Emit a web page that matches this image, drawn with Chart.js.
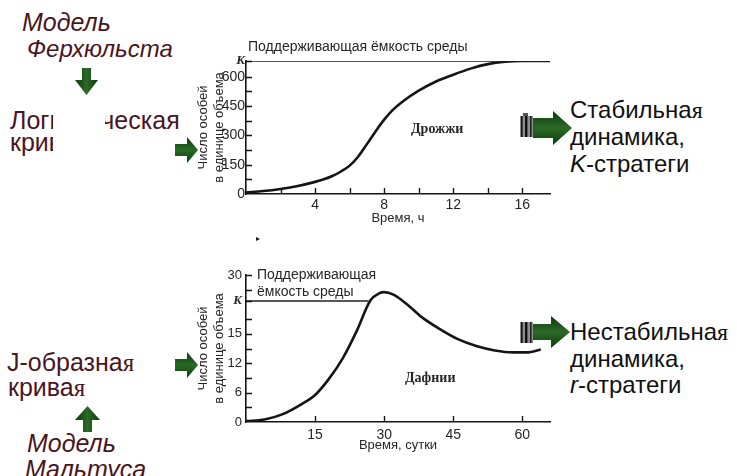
<!DOCTYPE html>
<html lang="ru">
<head>
<meta charset="utf-8">
<script src="https://cdn.jsdelivr.net/npm/chart.js@4.4.1/dist/chart.umd.min.js"></script>
<style>
  html, body { margin: 0; padding: 0; background: #fff; }
  #slide { position: relative; width: 737px; height: 476px; overflow: hidden; background: #fff;
           font-family: 'Liberation Sans', Arial, sans-serif; }
  #slide canvas { position: absolute; }
  #yeast { left: 180px; top: 30px; }
  #daphnia { left: 180px; top: 258px; }
  .t { position: absolute; white-space: nowrap; font-size: 24px; line-height: 24px; color: #111; }
  .red { color: #4a1522; font-size: 25px; }
  .it { font-style: italic; }
  .serif { font-family: 'Liberation Serif', serif; }
  .mask { position: absolute; background: #fff; }
  svg.arrows { position: absolute; left: 0; top: 0; }
</style>
</head>
<body>
<div id="slide">
  <canvas id="yeast" width="380" height="215"></canvas>
  <canvas id="daphnia" width="380" height="205"></canvas>

  <div class="t red it" style="left:22px; top:10px;">Модель</div>
  <div class="t red it" style="left:27px; top:37px; font-size:24px;">Ферхюльста</div>
  <div class="t red" style="left:10px; top:108px;">Логистическая</div>
  <div class="t red" style="left:10px; top:130px;">кривая</div>
  <div class="mask" style="left:53px; top:98px; width:52px; height:64px;"></div>

  <div class="t red" style="left:7px; top:350px;">J-образна<span class="serif">я</span></div>
  <div class="t red" style="left:8px; top:375px;">крива<span class="serif">я</span></div>
  <div class="t red it" style="left:27px; top:431px;">Модель</div>
  <div class="t red it" style="left:25px; top:457px;">Мальтуса</div>

  <div class="t" style="left:570px; top:98px;">Стабильна<span class="serif">я</span></div>
  <div class="t" style="left:570px; top:125px;">динамика,</div>
  <div class="t" style="left:570px; top:152px;"><i>K</i>-стратеги</div>

  <div class="t" style="left:570px; top:320px;">Нестабильна<span class="serif">я</span></div>
  <div class="t" style="left:570px; top:347px;">динамика,</div>
  <div class="t" style="left:570px; top:373px;"><i>r</i>-стратеги</div>

  <div class="t" style="left:256px; top:235px; font-size:8px; line-height:8px;">▸</div>

  <svg class="arrows" width="737" height="476">
    <defs>
      <linearGradient id="gv" x1="0" y1="0" x2="1" y2="0">
        <stop offset="0" stop-color="#0b3b0c"/>
        <stop offset="0.5" stop-color="#2c6a27"/>
        <stop offset="1" stop-color="#0b3b0c"/>
      </linearGradient>
      <linearGradient id="gh" x1="0" y1="0" x2="0" y2="1">
        <stop offset="0" stop-color="#0b3b0c"/>
        <stop offset="0.5" stop-color="#2c6a27"/>
        <stop offset="1" stop-color="#0b3b0c"/>
      </linearGradient>
    </defs>
    <!-- down / up -->
    <polygon fill="url(#gv)" points="82,68 91,68 91,80 98,80 86.5,95 75,80 82,80"/>
    <polygon fill="url(#gv)" points="83,432 92,432 92,420 100,420 87.5,406 75,420 83,420"/>
    <!-- small arrows pointing at the charts -->
    <polygon fill="url(#gh)" points="175,144 187,144 187,137 198,150 187,163 187,156 175,156"/>
    <polygon fill="url(#gh)" points="175,359 187,359 187,352 198,365 187,378 187,371 175,371"/>
    <!-- striped arrows on the right -->
    <g>
      <rect x="520" y="116" width="13" height="21" fill="#8d8d8d"/>
      <rect x="521" y="116" width="1.6" height="21" fill="#111"/>
      <rect x="525" y="116" width="2.4" height="21" fill="#111"/>
      <rect x="530" y="116" width="1.6" height="21" fill="#222"/>
      <rect x="523" y="113" width="5" height="3" fill="#555"/>
      <polygon fill="url(#gh)" points="533,118 553,118 553,111 572,128 553,145 553,138 533,138"/>
    </g>
    <g>
      <rect x="520" y="322" width="13" height="21" fill="#8d8d8d"/>
      <rect x="521" y="322" width="1.6" height="21" fill="#111"/>
      <rect x="525" y="322" width="2.4" height="21" fill="#111"/>
      <rect x="530" y="322" width="1.6" height="21" fill="#222"/>
      <polygon fill="url(#gh)" points="533,324 551,324 551,316 570,332 551,348 551,340 533,340"/>
    </g>
  </svg>
</div>

<script>
// Дрожжи: логистический рост, время в часах
const yeastHours   = [0, 1, 2, 3, 4, 4.5, 5, 5.5, 6, 6.5, 7, 7.5, 8, 8.5, 9, 10, 11, 12, 13, 14, 15, 16, 17, 17.6];
const yeastDensity = [8, 15, 26, 41, 62, 75, 92, 115, 145, 192, 255, 320, 380, 430, 468, 528, 575, 610, 641, 664, 676, 680, 680, 680];
const yeastK = 680;
const yeastXTicks  = [0, 2, 4, 6, 8, 10, 12, 14, 16];
const yeastXLabels = ['', '', '4', '', '8', '', '12', '', '16'];
const yeastYTicks  = [0, 75, 150, 225, 300, 375, 450, 525, 600, yeastK];
const yeastYLabels = ['0', '', '150', '', '300', '', '450', '', '600', 'K'];

// Дафнии: рост с перескоком через K, время в сутках
const daphniaDays    = [0, 4, 8, 12, 15, 18, 21, 24, 27, 29, 30, 32, 35, 38, 42, 46, 50, 54, 58, 61, 64];
const daphniaDensity = [0.2, 0.5, 1.6, 3.6, 5.5, 8.8, 13, 18.5, 24.8, 26.3, 26.5, 26, 24, 21.5, 19, 16.9, 15.5, 14.6, 14.2, 14.2, 14.8];
const daphniaK = 24.7;
const daphniaKEnd = 26.6;
const daphniaXTicks  = [15, 30, 45, 60];
const daphniaXLabels = ['15', '30', '45', '60'];
const daphniaYTicks  = [0, 3, 6, 9, 12, 15, 18, 21, daphniaK, 27, 30];
const daphniaYLabels = ['0', '', '6', '', '12', '', '15', '', 'K', '', '30'];

const INK = '#151515';
const TEXT = '#262626';
Chart.defaults.font.family = "'Liberation Sans', Arial, sans-serif";

// short tick marks drawn inside the plot area
const inwardTicks = {
    id: 'inwardTicks',
    afterDraw(chart) {
        const { ctx, chartArea: a, scales: { x, y } } = chart;
        const len = 6;
        ctx.save();
        ctx.strokeStyle = INK;
        ctx.lineWidth = 1.4;
        ctx.beginPath();
        x.ticks.forEach(t => {
            if (t.value <= x.min) return;
            const p = Math.round(x.getPixelForValue(t.value)) + 0.5;
            ctx.moveTo(p, a.bottom);
            ctx.lineTo(p, a.bottom - len);
        });
        y.ticks.forEach(t => {
            if (t.value <= y.min) return;
            const p = Math.round(y.getPixelForValue(t.value)) + 0.5;
            ctx.moveTo(a.left, p);
            ctx.lineTo(a.left + len, p);
        });
        ctx.stroke();
        ctx.restore();
    }
};

// free text inside the chart; data:true places it in axis units,
// otherwise it is offset from the chart area's top-left corner
const notes = {
    id: 'notes',
    afterDatasetsDraw(chart, args, opts) {
        const { ctx, chartArea: a, scales: { x, y } } = chart;
        ctx.save();
        ctx.textBaseline = 'middle';
        (opts.items || []).forEach(n => {
            ctx.font = n.font;
            ctx.fillStyle = TEXT;
            ctx.textAlign = n.align || 'left';
            const px = n.data ? x.getPixelForValue(n.x) : a.left + n.x;
            const py = n.data ? y.getPixelForValue(n.y) : a.top + n.y;
            ctx.fillText(n.text, px, py);
        });
        ctx.restore();
    }
};

function xAxis(max, ticks, labels, title, height, labelPad, titlePad) {
    return {
        type: 'linear', min: 0, max,
        grid: { display: false, drawTicks: false },
        border: { color: INK, width: 1.6 },
        afterBuildTicks: ax => { ax.ticks = ticks.map(v => ({ value: v })); },
        afterFit: ax => { ax.height = height; },
        ticks: {
            autoSkip: false, maxRotation: 0, padding: labelPad, color: TEXT,
            font: { size: 14 },
            callback: v => labels[ticks.indexOf(v)]
        },
        title: { display: true, text: title, color: TEXT, font: { size: 13 }, padding: { top: 0, bottom: titlePad } }
    };
}

function yAxis(max, ticks, labels, labelSize, labelPad) {
    const serifK = { family: "'Liberation Serif', serif", size: 13, style: 'italic', weight: 'bold' };
    return {
        type: 'linear', min: 0, max,
        grid: { display: false, drawTicks: false },
        border: { color: INK, width: 1.6 },
        afterBuildTicks: ax => { ax.ticks = ticks.map(v => ({ value: v })); },
        afterFit: ax => { ax.width = 66; },
        ticks: {
            autoSkip: false, padding: labelPad, color: TEXT,
            font: ctx => (ctx.tick && labels[ticks.indexOf(ctx.tick.value)] === 'K') ? serifK : { size: labelSize },
            callback: v => labels[ticks.indexOf(v)]
        },
        title: {
            display: true, text: ['Число особей', 'в единице объема'], color: TEXT,
            font: { size: 13, lineHeight: 1.25 }, padding: { top: 15, bottom: 0 }
        }
    };
}

function curve(xs, ys) {
    return {
        data: xs.map((v, i) => ({ x: v, y: ys[i] })),
        borderColor: INK, borderWidth: 2.6,
        pointRadius: 0, cubicInterpolationMode: 'monotone', fill: false
    };
}

function kLine(x0, x1, k) {
    return {
        data: [{ x: x0, y: k }, { x: x1, y: k }],
        borderColor: '#202020', borderWidth: 1.4, pointRadius: 0, fill: false
    };
}

const baseOptions = {
    responsive: false,
    animation: false,
    events: [],
    plugins: { legend: { display: false }, tooltip: { enabled: false } }
};

new Chart(document.getElementById('yeast'), {
    type: 'line',
    data: { datasets: [kLine(0, 17.6, yeastK), curve(yeastHours, yeastDensity)] },
    options: {
        ...baseOptions,
        layout: { padding: { top: 31, right: 10, left: 0, bottom: 0 } },
        scales: {
            x: xAxis(17.6, yeastXTicks, yeastXLabels, 'Время, ч', 51, 3, 19),
            y: yAxis(yeastK, yeastYTicks, yeastYLabels, 14, 1)
        },
        plugins: {
            ...baseOptions.plugins,
            notes: { items: [
                { text: 'Поддерживающая ёмкость среды', x: 2, y: -14, font: "14px 'Liberation Sans'" },
                { text: 'Дрожжи', data: true, x: 11.07, y: 328, align: 'center', font: "bold 14px 'Liberation Serif'" }
            ] }
        }
    },
    plugins: [inwardTicks, notes]
});

new Chart(document.getElementById('daphnia'), {
    type: 'line',
    data: { datasets: [kLine(0, daphniaKEnd, daphniaK), curve(daphniaDays, daphniaDensity)] },
    options: {
        ...baseOptions,
        layout: { padding: { top: 17, right: 10, left: 0, bottom: 0 } },
        scales: {
            x: xAxis(66, daphniaXTicks, daphniaXLabels, 'Время, сутки', 41, 5, 10),
            y: yAxis(30, daphniaYTicks, daphniaYLabels, 13, 4)
        },
        plugins: {
            ...baseOptions.plugins,
            notes: { items: [
                { text: 'Поддерживающая', x: 11, y: 0, font: "14px 'Liberation Sans'" },
                { text: 'ёмкость среды', x: 11, y: 17, font: "14px 'Liberation Sans'" },
                { text: 'Дафнии', data: true, x: 40, y: 8.8, align: 'center', font: "bold 14px 'Liberation Serif'" }
            ] }
        }
    },
    plugins: [inwardTicks, notes]
});
</script>
</body>
</html>
